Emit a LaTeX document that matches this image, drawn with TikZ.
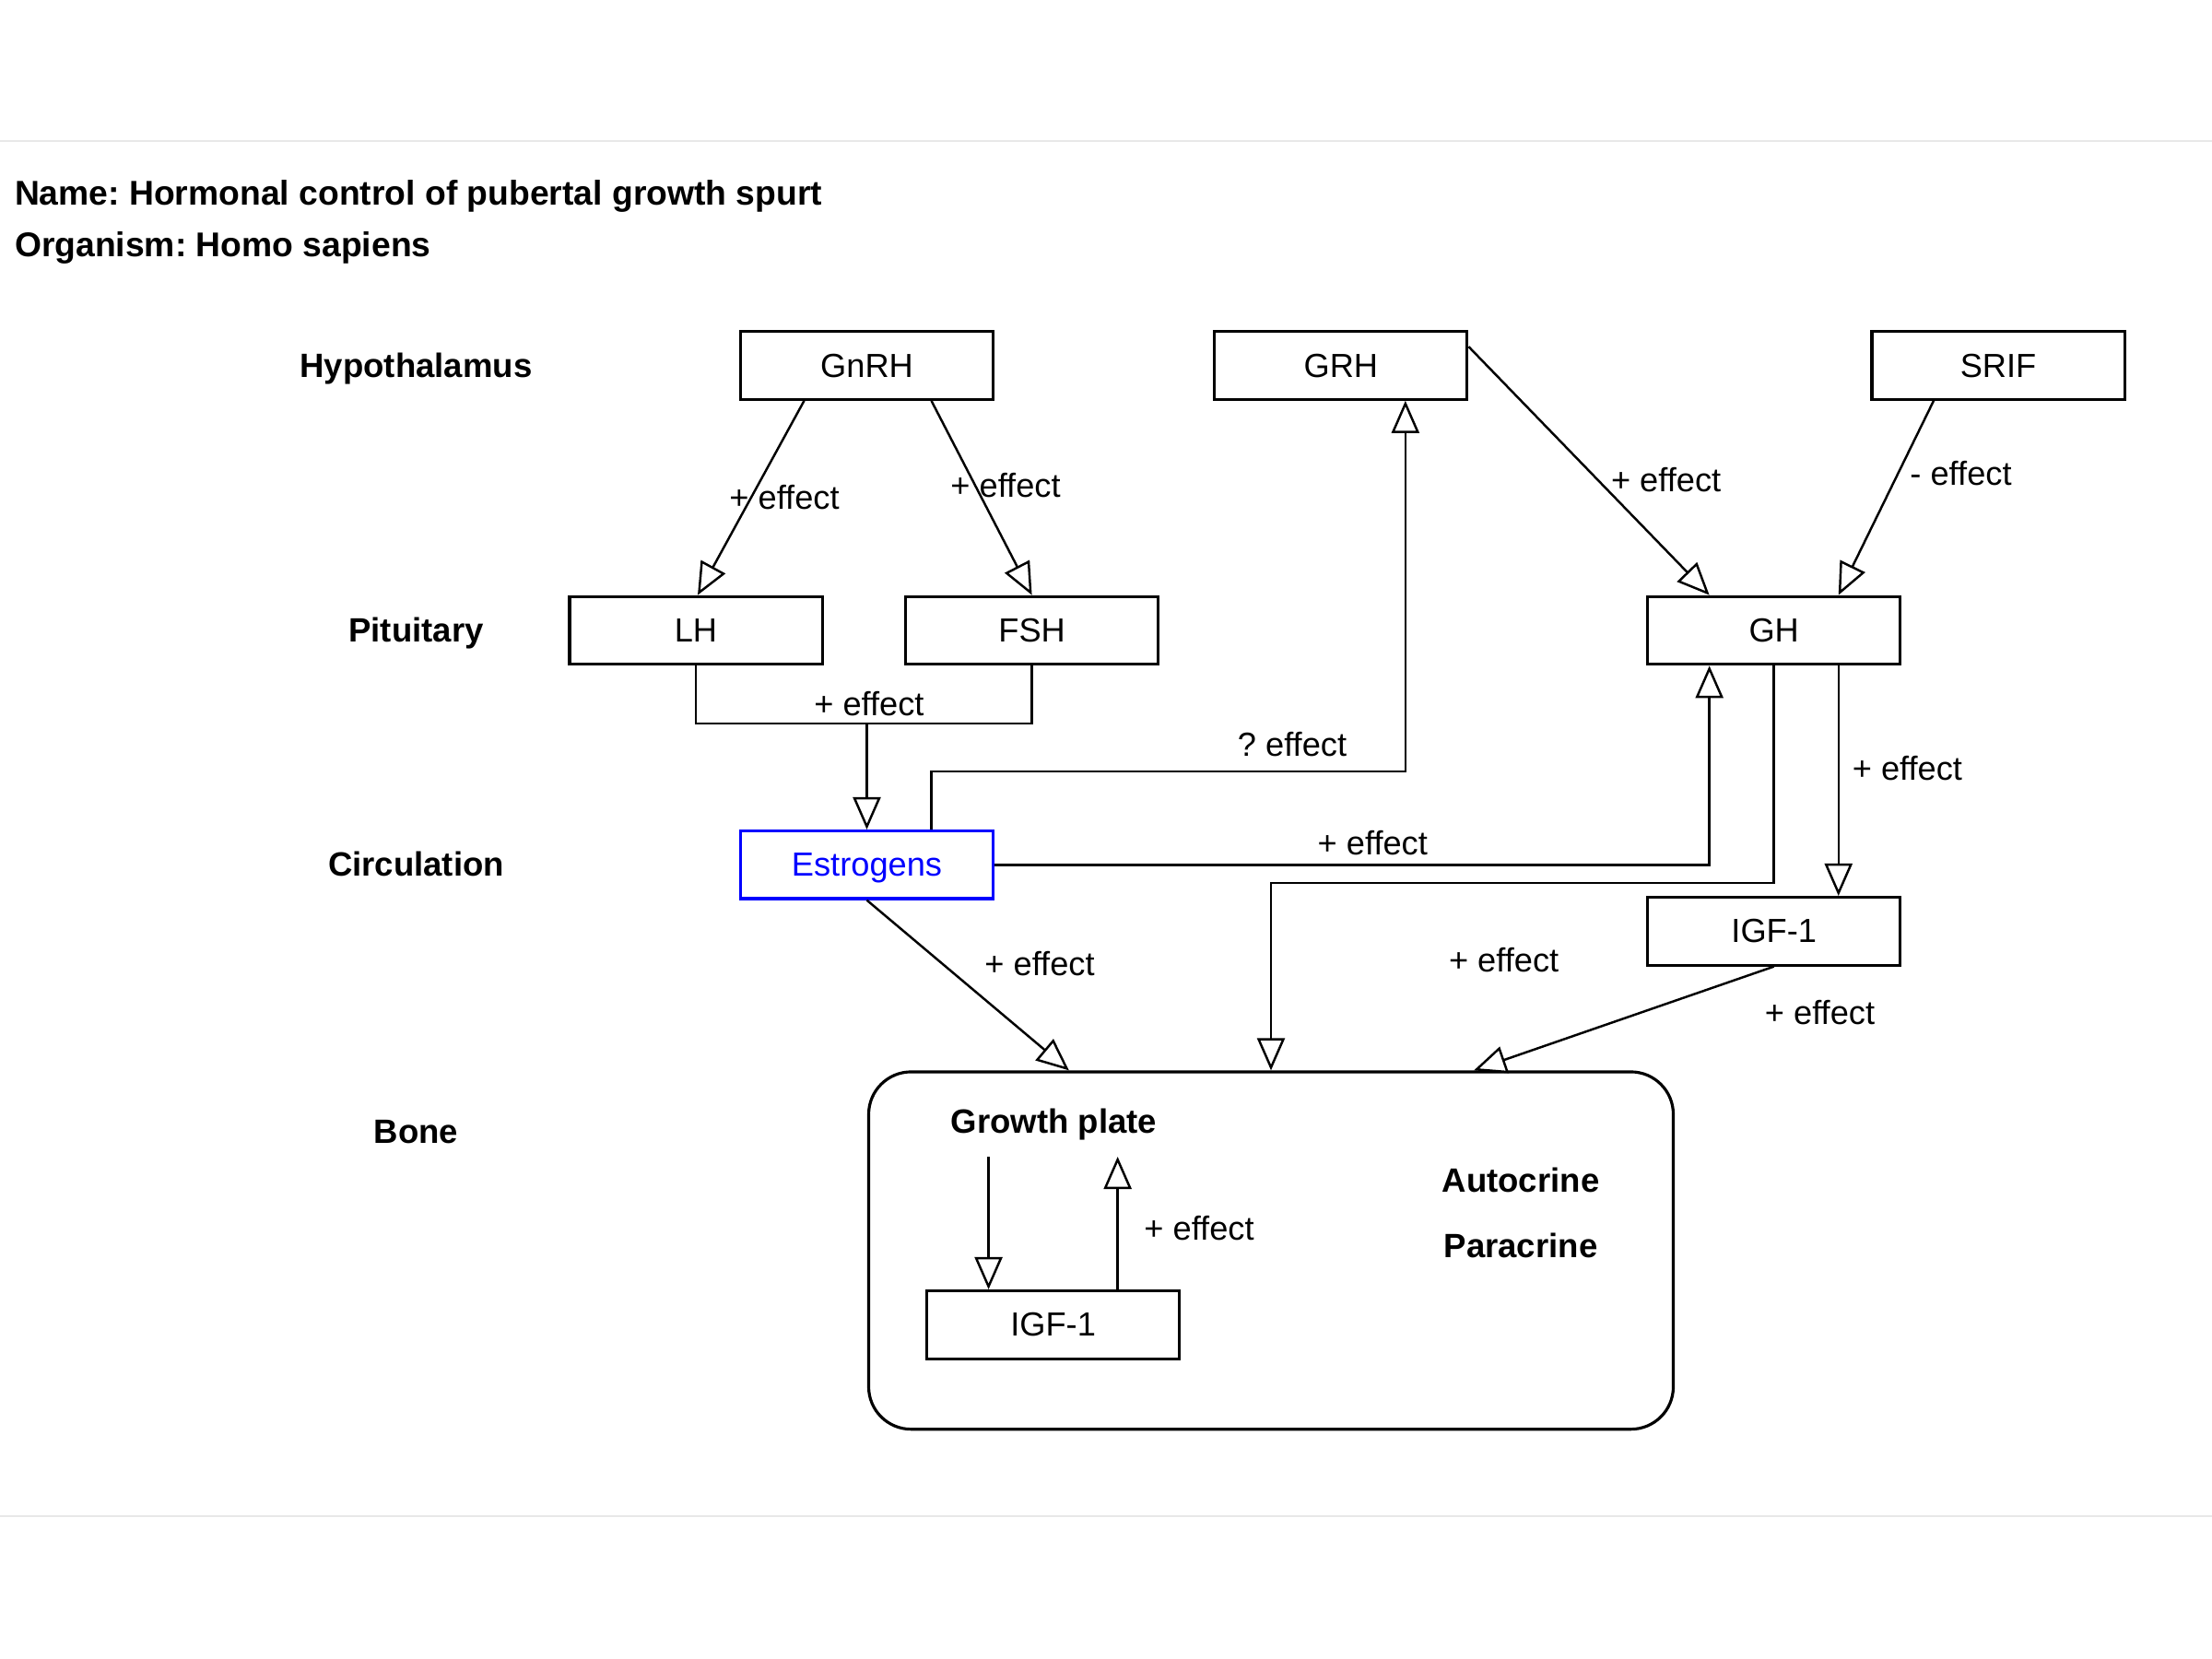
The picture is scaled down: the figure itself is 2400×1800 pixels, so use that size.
\documentclass[tikz,border=0pt]{standalone}
\usepackage{fontspec}
\setmainfont{Liberation Sans}
\usetikzlibrary{arrows.meta}
\frenchspacing
\begin{document}
\begin{tikzpicture}[x=0.01cm,y=-0.01cm,
  txt/.style={font=\fontsize{10.3}{12}\selectfont, inner sep=0pt, text height=0.72em, text depth=0pt},
  btxt/.style={font=\fontsize{10.4}{12}\selectfont\bfseries, inner sep=0pt, text height=0.72em, text depth=0pt},
  ttxt/.style={font=\fontsize{10.6}{12}\selectfont\bfseries, inner sep=0pt, text height=0.72em, text depth=0pt},
  box/.style={draw, line width=0.9pt, minimum width=2.74cm, minimum height=0.735cm, inner sep=0pt, text height=0.72em, text depth=0pt, font=\fontsize{10.3}{12}\selectfont},
  conn/.style={line width=0.7pt},
  arr/.style={line width=0.7pt, -{Triangle[length=0.35cm, width=0.3cm, fill=white, line width=0.7pt]}},
  faint/.style={draw=black!9, line width=0.6pt}
]
\useasboundingbox (0,0) rectangle (2400,1800);
\fill[white] (0,0) rectangle (2400,1800);
\coordinate (fl1) at (0,153); \coordinate (fr1) at (2400,153);
\coordinate (fl2) at (0,1645); \coordinate (fr2) at (2400,1645);
\draw[faint] (fl1) -- (fr1);
\draw[faint] (fl2) -- (fr2);

% title
\node[ttxt, anchor=west] (t1) at (15.3,209.7) {Name: Hormonal control of pubertal growth spurt};
\node[ttxt, anchor=west] (t2) at (15.3,266.3) {Organism: Homo sapiens};

% section labels
\node[btxt] (s1) at (451.5,396.4) {Hypothalamus};
\node[btxt] (s2) at (451.5,684.2) {Pituitary};
\node[btxt] (s3) at (451.5,938.3) {Circulation};
\node[btxt] (s4) at (451.5,1227.5) {Bone};

% boxes
\node[box] (GnRH) at (940.5,396.5) {GnRH};
\node[box] (GRH) at (1454.8,396.5) {GRH};
\node[box] (SRIF) at (2168,396.5) {SRIF};
\node[box] (LH) at (755,684) {LH};
\node[box] (FSH) at (1119.6,684) {FSH};
\node[box] (GH) at (1924.7,684) {GH};
\node[box, draw=blue, text=blue] (Estr) at (940.5,938.3) {Estrogens};
\node[box] (IGF) at (1924.7,1010.3) {IGF-1};
\node[draw, line width=0.9pt, rounded corners=0.46cm, minimum width=8.725cm, minimum height=3.875cm] (GP) at (1379,1356.8) {};
\node[box] (IGFb) at (1142.6,1437.3) {IGF-1};

% text inside growth plate
\node[btxt] (gpt) at (1143.4,1216.8) {Growth plate};
\node[btxt] (auto) at (1650,1281.1) {Autocrine};
\node[btxt] (para) at (1650,1351.5) {Paracrine};

% connectors
\draw[arr] ([xshift=-0.68cm]GnRH.south) -- ([xshift=0.02cm]LH.north);
\draw[arr] ([xshift=0.7cm]GnRH.south) -- (FSH.north);
\draw[arr] ([yshift=-0.18cm]GRH.north east) -- ([xshift=-0.7cm]GH.north);
\draw[arr] ([xshift=-0.7cm]SRIF.south) -- ([xshift=0.7cm]GH.north);

\coordinate (jy) at (0,785.2);
\coordinate (j) at (Estr.north |- jy);
\draw[conn] (LH.south) |- (j) -| (FSH.south);
\draw[arr] (j) -- (Estr.north);

\coordinate (ey) at (0,837.2);
\coordinate (eout) at ([xshift=0.7cm]Estr.north);
\coordinate (grhin) at ([xshift=0.7cm]GRH.south);
\draw[arr] (eout) |- (grhin |- ey) -- (grhin);

\coordinate (ghin) at ([xshift=-0.7cm]GH.south);
\draw[arr] (Estr.east) -| (ghin);

\draw[arr] ([xshift=0.7cm]GH.south) -- ([xshift=0.7cm]IGF.north);

\coordinate (gy) at (0,958.2);
\draw[arr] (GH.south) |- (GP.north |- gy) -- (GP.north);

\draw[arr] (Estr.south) -- ([xshift=-2.19cm]GP.north);
\draw[arr] (IGF.south) -- ([xshift=2.2cm]GP.north);

\coordinate (iny) at (0,1255);
\coordinate (a1) at ([xshift=-0.7cm]IGFb.north);
\coordinate (a2) at ([xshift=0.7cm]IGFb.north);
\draw[arr] (a1 |- iny) -- (a1);
\draw[arr] (a2) -- (a2 |- iny);

% labels
\node[txt] (l1) at (851,540) {+ effect};
\node[txt] (l2) at (1091,526.5) {+ effect};
\node[txt] (l3) at (1807.6,520.4) {+ effect};
\node[txt] (l4) at (2127.5,514.3) {- effect};
\node[txt] (l5) at (942.9,763.8) {+ effect};
\node[txt] (l6) at (1402,808) {? effect};
\node[txt] (l7) at (1489.3,915.3) {+ effect};
\node[txt] (l8) at (2069.4,834.2) {+ effect};
\node[txt] (l9) at (1631.6,1042.3) {+ effect};
\node[txt] (l10) at (1128,1045.4) {+ effect};
\node[txt] (l11) at (1974.5,1099) {+ effect};
\node[txt] (l12) at (1301,1333.2) {+ effect};
\end{tikzpicture}
\end{document}
